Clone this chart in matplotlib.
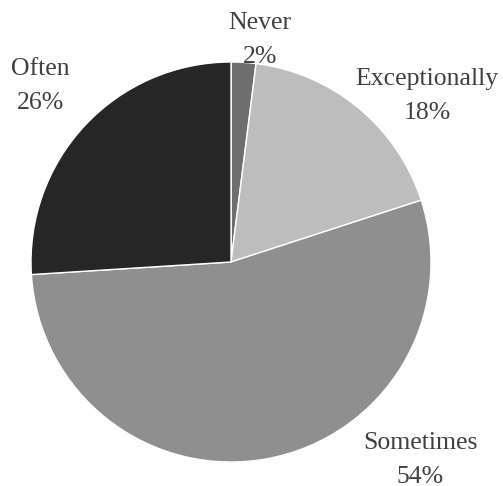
import matplotlib.pyplot as plt

# ============================================================
# DATA
# ============================================================

categories = ["Never", "Exceptionally", "Sometimes", "Often"]
shares = [2, 18, 54, 26]
colors = ["#6e6e6e", "#bdbdbd", "#8f8f8f", "#262626"]

# label centres (data units, pie radius = 1)
label_pos = [(0.145, 1.11), (0.98, 0.83), (0.945, -0.99), (-0.955, 0.88)]

# ============================================================
# PLOT
# ============================================================

plt.rcParams["font.family"] = ["Liberation Serif", "DejaVu Serif"]

fig = plt.figure(figsize=(5.03, 4.86), dpi=100)
ax = fig.add_axes([0, 0, 1, 1])

ax.pie(
    shares,
    colors=colors,
    startangle=90,
    counterclock=False,
    radius=1.0,
    wedgeprops=dict(edgecolor="white", linewidth=1.0),
)

for name, val, (x, y) in zip(categories, shares, label_pos):
    ax.text(x, y, f"{name}\n{val}%", ha="center", va="center",
            fontsize=18.5, color="#404040", linespacing=1.65)

ax.set_xlim(-1.155, 1.36)
ax.set_ylim(-1.12, 1.31)
ax.set_aspect("auto")
ax.axis("off")

fig.savefig("out.png", dpi=100, facecolor="white")
